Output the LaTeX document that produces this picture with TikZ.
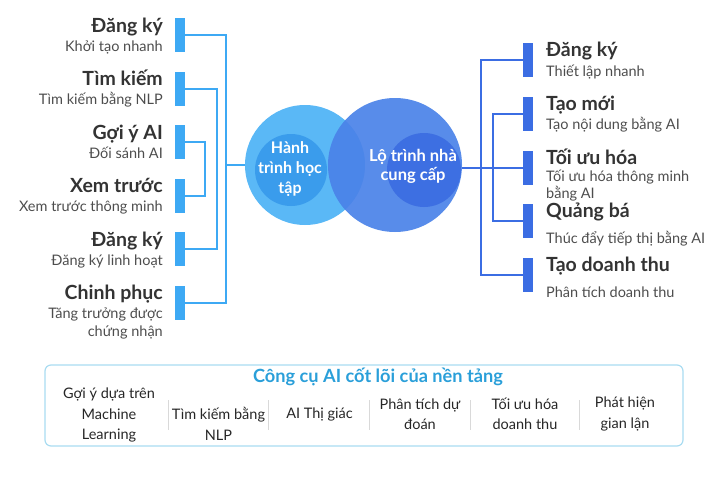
\documentclass[tikz,border=0pt]{standalone}
\usepackage{fontspec}
\setmainfont{Lato}
\usetikzlibrary{positioning, calc}
\definecolor{skyblue}{HTML}{3DA9F4}
\definecolor{lightsky}{HTML}{5AB8F6}
\definecolor{midsky}{HTML}{3A9CEC}
\definecolor{royal}{HTML}{4A82E8}
\definecolor{deeproyal}{HTML}{3D6FE2}
\definecolor{barroyal}{HTML}{3B6DE3}
\definecolor{darktext}{HTML}{333333}
\definecolor{subtext}{HTML}{4D4D4D}
\definecolor{tooltitle}{HTML}{2A9FD9}
\definecolor{toolframe}{HTML}{A9DCF1}

\begin{document}
\begin{tikzpicture}[x=1pt, y=-1pt,
    lbar/.style={fill=skyblue, minimum width=10pt, minimum height=34pt, inner sep=0pt},
    rbar/.style={fill=barroyal, minimum width=10pt, minimum height=34pt, inner sep=0pt},
    lline/.style={skyblue, line width=2pt},
    rline/.style={barroyal, line width=2pt},
    head/.style={font=\fontsize{19.5}{22}\selectfont\bfseries, text=darktext, inner sep=0pt},
    sub/.style={font=\fontsize{14.5}{18}\selectfont, text=subtext, inner sep=0pt},
    circtext/.style={font=\fontsize{16}{20}\selectfont\bfseries, text=white, align=center, inner sep=0pt},
    tool/.style={font=\fontsize{14.5}{20.5}\selectfont, text=black!85, align=center, inner sep=0pt}]
  \useasboundingbox (0,0) rectangle (725,485);

  % hai vong tron
  \node[circle, fill=lightsky, minimum size=120pt, inner sep=0pt] (lc) at (305,165) {};
  \node[circle, fill=royal, fill opacity=0.92, minimum size=134pt, inner sep=0pt] (rc) at (395,165) {};
  \node[circle, fill=midsky, minimum size=72pt, inner sep=0pt] (lci) at (291,170) {};
  \node[circle, fill=deeproyal, minimum size=74pt, inner sep=0pt] (rci) at (424,170) {};
  \node[circtext] (lj) at (290,169) {Hành\\trình học\\tập};
  \node[circtext, font=\fontsize{16.5}{19}\selectfont\bfseries] (rj) at (413,166) {Lộ trình nhà\\cung cấp};

  % nhanh trai
  \foreach \i/\y in {1/35,2/88.5,3/142,4/195.5,5/249,6/302.5}
    \node[lbar] (l\i) at (180,\y) {};
  \foreach \i/\t/\s/\d in {1/Đăng ký/Khởi tạo nhanh/16, 2/Tìm kiếm/Tìm kiếm bằng NLP/16,
      3/Gợi ý AI/Đối sánh AI/16, 4/Xem trước/Xem trước thông minh/16,
      5/Đăng ký/Đăng ký linh hoạt/16, 6/Chinh phục/Tăng trưởng được\\chứng nhận/33.5}{
    \node[head, anchor=base east] (lt\i) at ($(l\i)+(-17,-3)$) {\t};
    \node[sub, anchor=base east, align=right] (ls\i) at ($(l\i)+(-17,\d)$) {\s};
  }
  \coordinate (lo) at (226,0);
  \coordinate (lm) at (217,0);
  \coordinate (li) at (205,0);
  \draw[lline] (l1.east) -- (l1.east -| lo) -- (l6.east -| lo) -- (l6.east);
  \draw[lline] (l2.east) -- (l2.east -| lm) -- (l5.east -| lm) -- (l5.east);
  \draw[lline] (l3.east) -- (l3.east -| li) -- (l4.east -| li) -- (l4.east);
  \draw[lline] (lc.west -| lo) -- (lc.west);

  % nhanh phai
  \foreach \i/\y in {1/60,2/113.75,3/167.5,4/221.25,5/275}
    \node[rbar] (r\i) at (528,\y) {};
  \foreach \i/\t/\s/\d in {1/Đăng ký/Thiết lập nhanh/16, 2/Tạo mới/Tạo nội dung bằng AI/16,
      3/Tối ưu hóa/Tối ưu hóa thông minh\\bằng AI/30.5, 4/Quảng bá/Thúc đẩy tiếp thị bằng AI/21.75,
      5/Tạo doanh thu/Phân tích doanh thu/22}{
    \node[head, anchor=base west] (rt\i) at ($(r\i)+(18,-3.5)$) {\t};
    \node[sub, anchor=base west, align=left, font=\fontsize{14.5}{16.5}\selectfont] (rs\i) at ($(r\i)+(18,\d)$) {\s};
  }
  \coordinate (ro) at (481,0);
  \coordinate (ri) at (493,0);
  \draw[rline] (r1.west) -- (r1.west -| ro) -- (r5.west -| ro) -- (r5.west);
  \draw[rline] (r2.west) -- (r2.west -| ri) -- (r4.west -| ri) -- (r4.west);
  \draw[rline] (rc.east |- r3.west) -- (r3.west);

  % cong cu AI
  \node[draw=toolframe, line width=1.2pt, rounded corners=6pt, minimum width=638pt,
    minimum height=81pt, inner sep=0pt] (tools) at (364,405.5) {};
  \node[font=\fontsize{18.2}{20}\selectfont\bfseries, text=tooltitle] (toolhead) at (378,377)
    {Công cụ AI cốt lõi của nền tảng};
  \node[tool] (t1) at (109,415) {Gợi ý dựa trên\\Machine\\Learning};
  \node[tool] (t2) at (218.5,424) {Tìm kiếm bằng\\NLP};
  \node[tool] (t3) at (319.5,414) {AI Thị giác};
  \node[tool] (t4) at (420,414) {Phân tích dự\\đoán};
  \node[tool] (t5) at (525,414) {Tối ưu hóa\\doanh thu};
  \node[tool] (t6) at (625,414) {Phát hiện\\gian lận};
  \foreach \x in {168,268,369,470,579}
    \draw[black!15, line width=0.8pt] (\x,400) -- (\x,430);
\end{tikzpicture}
\end{document}
